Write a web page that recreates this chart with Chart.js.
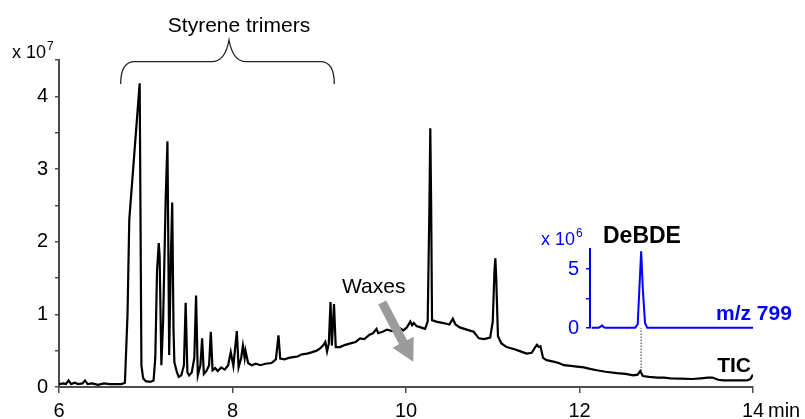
<!DOCTYPE html>
<html>
<head>
<meta charset="utf-8">
<script src="https://cdn.jsdelivr.net/npm/chart.js@4.4.1/dist/chart.umd.min.js"></script>
<style>
  body { margin: 0; background: #fff; }
  #wrap { position: relative; width: 805px; height: 419px; }
  #wrap canvas { position: absolute; display: block; }
  #main { left: 0; top: 0; }
  #inset { left: 550px; top: 239px; }
</style>
</head>
<body>
<div id="wrap">
  <canvas id="main" width="805" height="419"></canvas>
  <canvas id="inset" width="203" height="100"></canvas>
</div>
<script>
// TIC trace, retention time (min) and intensity (x 10^7)
const ticTime = [
  6.00, 6.05, 6.08, 6.11, 6.14, 6.18, 6.22, 6.27, 6.30, 6.33, 6.38, 6.45, 6.52, 6.58, 6.65, 6.72, 6.76,
  6.79, 6.81, 6.93, 6.95, 6.97, 7.00, 7.05, 7.09, 7.11, 7.13, 7.15, 7.16, 7.18, 7.20, 7.23, 7.25, 7.26,
  7.27, 7.29, 7.305, 7.32, 7.33, 7.36, 7.38, 7.41, 7.44, 7.46, 7.48, 7.50, 7.53, 7.56, 7.58, 7.60, 7.63,
  7.65, 7.67, 7.70, 7.73, 7.75, 7.77, 7.80, 7.83, 7.87, 7.91, 7.95, 7.98, 8.01, 8.05, 8.07, 8.10, 8.12,
  8.14, 8.15, 8.18, 8.22, 8.27, 8.32, 8.38, 8.45, 8.50, 8.53, 8.55, 8.60, 8.65, 8.70, 8.75, 8.80, 8.86,
  8.92, 8.97, 9.01, 9.05, 9.07, 9.09, 9.11, 9.13, 9.145, 9.17, 9.19, 9.24, 9.30, 9.36, 9.42, 9.47, 9.52,
  9.58, 9.62, 9.66, 9.68, 9.73, 9.78, 9.84, 9.90, 9.93, 9.97, 10.01, 10.05, 10.07, 10.09, 10.12, 10.17,
  10.22, 10.25, 10.27, 10.28, 10.29, 10.30, 10.35, 10.43, 10.50, 10.54, 10.57, 10.62, 10.70, 10.78,
  10.84, 10.90, 10.97, 11.00, 11.02, 11.03, 11.04, 11.06, 11.10, 11.16, 11.25, 11.32, 11.39, 11.45,
  11.49, 11.51, 11.53, 11.55, 11.58, 11.62, 11.70, 11.76, 11.82, 11.90, 11.97, 12.05, 12.12, 12.20,
  12.30, 12.43, 12.53, 12.62, 12.67, 12.70, 12.73, 12.80, 12.90, 12.97, 13.05, 13.16, 13.30, 13.40,
  13.48, 13.53, 13.60, 13.66, 13.80, 13.93, 13.97, 14.00
];
const ticValue = [
  0.04, 0.05, 0.04, 0.09, 0.04, 0.06, 0.04, 0.05, 0.09, 0.04, 0.05, 0.03, 0.05, 0.04, 0.04, 0.04, 0.06,
  1.00, 2.30, 4.18, 0.30, 0.12, 0.08, 0.07, 0.09, 0.40, 1.60, 1.98, 1.80, 0.30, 0.90, 2.60, 3.38, 2.00,
  0.44, 1.80, 2.54, 0.80, 0.34, 0.20, 0.14, 0.16, 0.30, 1.16, 0.20, 0.16, 0.20, 0.40, 1.26, 0.16, 0.30,
  0.67, 0.18, 0.22, 0.30, 0.76, 0.23, 0.26, 0.22, 0.27, 0.24, 0.30, 0.48, 0.29, 0.77, 0.27, 0.40, 0.57,
  0.40, 0.50, 0.33, 0.30, 0.32, 0.30, 0.32, 0.33, 0.38, 0.71, 0.39, 0.38, 0.40, 0.41, 0.42, 0.45, 0.46,
  0.48, 0.50, 0.53, 0.58, 0.62, 0.49, 0.60, 1.17, 0.57, 1.14, 0.55, 0.55, 0.58, 0.60, 0.62, 0.67, 0.66,
  0.72, 0.74, 0.80, 0.74, 0.76, 0.79, 0.77, 0.80, 0.81, 0.78, 0.82, 0.90, 0.85, 0.88, 0.84, 0.82,
  0.80, 0.90, 2.50, 3.56, 2.50, 0.92, 0.90, 0.88, 0.86, 0.94, 0.86, 0.82, 0.79, 0.76,
  0.67, 0.66, 0.68, 0.90, 1.60, 1.77, 1.50, 0.70, 0.60, 0.55, 0.52, 0.49, 0.46, 0.47,
  0.55, 0.58, 0.55, 0.56, 0.40, 0.37, 0.35, 0.33, 0.30, 0.29, 0.28, 0.27, 0.25, 0.23,
  0.21, 0.19, 0.18, 0.16, 0.17, 0.22, 0.15, 0.14, 0.13, 0.13, 0.12, 0.115, 0.11, 0.12,
  0.13, 0.13, 0.10, 0.09, 0.09, 0.09, 0.11, 0.17
];

// m/z 799 extracted ion trace (x 10^6)
const mzTime = [12.14, 12.22, 12.25, 12.26, 12.27, 12.29, 12.40, 12.55, 12.64, 12.67, 12.69, 12.71, 12.73, 12.755, 12.78, 13.00, 13.50, 14.00];
const mzValue = [0.02, 0.03, 0.15, 0.22, 0.12, 0.03, 0.03, 0.03, 0.03, 0.30, 3.40, 6.50, 3.20, 0.40, 0.03, 0.03, 0.03, 0.03];

// dotted guide between the DeBDE peak and the TIC
const guideTime = [12.71, 12.71];
const guideValue = [0.22, 0.81];

const mainYTicks = [0, 0.5, 1, 1.5, 2, 2.5, 3, 3.5, 4, 4.5];
const insetYTicks = [0, 1.25, 2.5, 3.75, 5, 6.25];
const insetYLabels = [0, 5];

const FONT = "'Liberation Sans', Arial, sans-serif";
const AXIS = '#4d4d4d';

function pinAxis(size) {
  return (scale) => {
    if (scale.isHorizontal()) scale.height = size;
    else scale.width = size;
    scale.paddingTop = scale.paddingBottom = scale.paddingLeft = scale.paddingRight = 0;
  };
}

function text(ctx, str, x, y, font, color, align) {
  ctx.font = font;
  ctx.fillStyle = color;
  ctx.textAlign = align || 'left';
  ctx.textBaseline = 'alphabetic';
  ctx.fillText(str, x, y);
  return ctx.measureText(str).width;
}

const annotations = {
  id: 'annotations',
  afterDraw(chart) {
    const ctx = chart.ctx;
    ctx.save();

    // y axis multiplier
    let w = text(ctx, 'x 10', 12, 58, '18px ' + FONT, '#000');
    text(ctx, '7', 12 + w + 1, 50, '12px ' + FONT, '#000');

    // brace over the styrene trimers
    const xL = 120.7, xC = 229, xR = 334.3, yEnd = 84, yLine = 61.7, yTip = 40;
    ctx.strokeStyle = '#222';
    ctx.lineWidth = 1.3;
    ctx.beginPath();
    ctx.moveTo(xL, yEnd);
    ctx.quadraticCurveTo(xL, yLine, xL + 14, yLine);
    ctx.lineTo(xC - 17, yLine);
    ctx.quadraticCurveTo(xC - 4, yLine, xC, yTip);
    ctx.quadraticCurveTo(xC + 4, yLine, xC + 17, yLine);
    ctx.lineTo(xR - 14, yLine);
    ctx.quadraticCurveTo(xR, yLine, xR, yEnd);
    ctx.stroke();
    text(ctx, 'Styrene trimers', 239, 31.5, '21px ' + FONT, '#000', 'center');

    // waxes label and arrow
    text(ctx, 'Waxes', 342, 292.5, '21px ' + FONT, '#000');
    const sx = 382.2, sy = 302.5, tx = 413.3, ty = 361.7;
    const len = Math.hypot(tx - sx, ty - sy);
    const ux = (tx - sx) / len, uy = (ty - sy) / len;
    const nx = -uy, ny = ux;
    const bx = tx - ux * 22, by = ty - uy * 22;
    ctx.fillStyle = '#9b9b9b';
    ctx.beginPath();
    ctx.moveTo(sx + nx * 4.5, sy + ny * 4.5);
    ctx.lineTo(bx + nx * 4.5, by + ny * 4.5);
    ctx.lineTo(bx + nx * 12, by + ny * 12);
    ctx.lineTo(tx, ty);
    ctx.lineTo(bx - nx * 12, by - ny * 12);
    ctx.lineTo(bx - nx * 4.5, by - ny * 4.5);
    ctx.lineTo(sx - nx * 4.5, sy - ny * 4.5);
    ctx.closePath();
    ctx.fill();

    // trace labels
    text(ctx, 'TIC', 751, 371.5, 'bold 21px ' + FONT, '#000', 'right');
    text(ctx, 'min', 768, 416.5, '20px ' + FONT, '#000');

    // inset labels
    w = text(ctx, 'x 10', 541, 245, '18px ' + FONT, '#0000ff');
    text(ctx, '6', 541 + w + 1, 237, '12px ' + FONT, '#0000ff');
    text(ctx, 'DeBDE', 603, 242.5, 'bold 23px ' + FONT, '#000');
    text(ctx, 'm/z 799', 716, 320, 'bold 21px ' + FONT, '#0000ff');

    ctx.restore();
  }
};

new Chart(document.getElementById('main'), {
  type: 'line',
  data: {
    datasets: [
      {
        data: ticTime.map((t, i) => ({ x: t, y: ticValue[i] })),
        borderColor: '#000',
        borderWidth: 2.2,
        pointRadius: 0,
        tension: 0,
      },
      {
        data: guideTime.map((t, i) => ({ x: t, y: guideValue[i] })),
        borderColor: '#333',
        borderWidth: 1,
        borderDash: [1.5, 1.5],
        pointRadius: 0,
      },
    ],
  },
  options: {
    responsive: false,
    animation: false,
    devicePixelRatio: 1,
    layout: { padding: { top: 60, right: 52, left: 0, bottom: 0 } },
    plugins: { legend: { display: false }, tooltip: { enabled: false } },
    scales: {
      x: {
        type: 'linear',
        min: 6,
        max: 14,
        afterFit: pinAxis(32),
        ticks: { stepSize: 2, color: '#000', font: { family: FONT, size: 20 }, padding: 6, maxRotation: 0 },
        grid: { drawOnChartArea: false, tickLength: 6, color: AXIS, lineWidth: 1.5 },
        border: { color: AXIS, width: 2 },
      },
      y: {
        min: 0,
        max: 4.5,
        afterFit: pinAxis(59),
        afterBuildTicks: (scale) => { scale.ticks = mainYTicks.map((v) => ({ value: v })); },
        ticks: {
          color: '#000',
          font: { family: FONT, size: 20 },
          padding: 7,
          callback: (v) => (Math.abs(v - Math.round(v)) < 1e-6 ? String(Math.round(v)) : ''),
        },
        grid: { drawOnChartArea: false, tickLength: 4, color: AXIS, lineWidth: 1.5 },
        border: { color: AXIS, width: 2 },
      },
    },
  },
  plugins: [annotations],
});

new Chart(document.getElementById('inset'), {
  type: 'line',
  data: {
    datasets: [
      {
        data: mzTime.map((t, i) => ({ x: t, y: mzValue[i] })),
        borderColor: '#0000ff',
        borderWidth: 2,
        pointRadius: 0,
        tension: 0,
        clip: false,
      },
    ],
  },
  options: {
    responsive: false,
    animation: false,
    devicePixelRatio: 1,
    layout: { padding: { top: 10, bottom: 11, left: 0, right: 0 } },
    plugins: { legend: { display: false }, tooltip: { enabled: false } },
    scales: {
      x: { type: 'linear', min: 12.12, max: 14, display: false },
      y: {
        min: 0,
        max: 6.7,
        afterFit: pinAxis(40),
        afterBuildTicks: (scale) => { scale.ticks = insetYTicks.map((v) => ({ value: v })); },
        ticks: {
          color: '#0000ff',
          font: { family: FONT, size: 20 },
          padding: 7,
          callback: (v) => (insetYLabels.includes(v) ? String(v) : ''),
        },
        grid: { drawOnChartArea: false, tickLength: 4, color: '#0000ff', lineWidth: 1.5 },
        border: { color: '#0000ff', width: 2 },
      },
    },
  },
});
</script>
</body>
</html>
